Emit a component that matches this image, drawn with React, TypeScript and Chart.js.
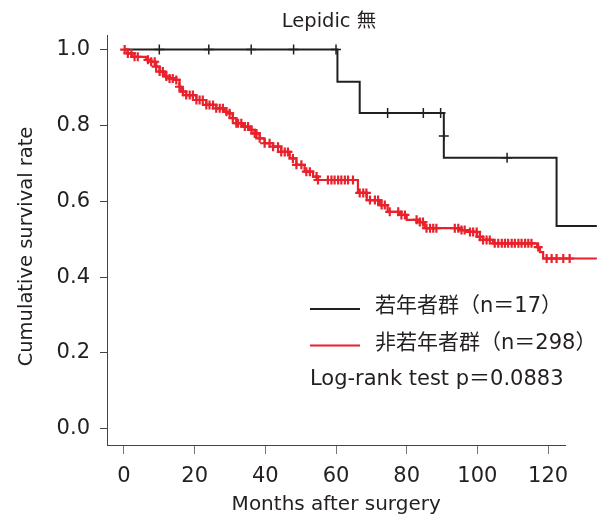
import React, { useEffect, useRef } from "react";
import { Chart, registerables } from "chart.js";

Chart.register(...registerables);

// ---- text ----
const chartTitle = "Lepidic 無";
const xAxisTitle = "Months after surgery";
const yAxisTitle = "Cumulative survival rate";
const pValueText = "Log-rank test p＝0.0883";

// ---- ticks ----
const xTickValues = [0, 20, 40, 60, 80, 100, 120];
const yTickValues = [0, 0.2, 0.4, 0.6, 0.8, 1.0];

// ---- young group (若年者群) ----
const youngLabel = "若年者群（n＝17）";
const youngEventMonths = [0, 60.4, 66.7, 90.5, 122.4, 133.8];
const youngSurvival = [1, 0.915, 0.833, 0.715, 0.535, 0.535];
const youngCensorMonths = [10, 24, 36, 48, 60, 74.6, 84.7, 89.6, 90.5, 108.4, 130.7, 131.3];
const youngCensorSurvival = [1, 1, 1, 1, 1, 0.833, 0.833, 0.833, 0.772, 0.715, 0.535, 0.535];

// ---- non-young group (非若年者群) ----
const olderLabel = "非若年者群（n＝298）";
const olderEventMonths = [
  0, 1.0, 2.4, 6.3, 7.7, 9.1, 10.1, 11.5, 12.9, 14.8,
  15.7, 16.2, 17.6, 20.5, 23.3, 26.1, 28.5, 29.9, 30.8, 31.8,
  33.7, 35.6, 37.0, 38.4, 39.8, 42.2, 44.5, 46.9, 48.8, 51.1,
  53.5, 54.9, 66.2, 68.7, 72.4, 74.6, 78.0, 80.0, 82.9, 85.1,
  95.0, 97.9, 99.9, 101.6, 104.4, 116.9, 117.7, 118.6, 133.8,
];
const olderSurvival = [
  1, 0.99, 0.981, 0.973, 0.968, 0.955, 0.942, 0.929, 0.924, 0.92,
  0.902, 0.889, 0.88, 0.867, 0.854, 0.845, 0.836, 0.832, 0.819, 0.806,
  0.797, 0.788, 0.779, 0.766, 0.753, 0.744, 0.73, 0.713, 0.696, 0.678,
  0.665, 0.656, 0.622, 0.603, 0.59, 0.572, 0.564, 0.551, 0.545, 0.529,
  0.524, 0.519, 0.506, 0.498, 0.489, 0.479, 0.466, 0.449, 0.449,
];
const olderCensorMonths = [
  0.2, 1.1, 2.1, 3.0, 3.9, 6.8, 7.7, 8.7, 9.1, 10.1, 11.0, 12.0, 12.9, 13.8,
  14.8, 15.7, 16.7, 17.6, 18.6, 19.5, 20.5, 21.4, 22.3, 23.3, 24.2, 25.2,
  26.1, 27.1, 28.0, 29.0, 29.9, 30.8, 31.8, 32.3, 33.2, 34.2, 35.1, 36.1,
  37.0, 37.5, 38.4, 39.8, 41.2, 42.2, 43.6, 44.5, 45.5, 46.4, 47.8, 48.8,
  50.2, 51.6, 52.6, 54.5, 54.9, 57.7, 58.7, 59.6, 60.6, 61.5, 62.5, 63.4,
  64.8, 66.7, 67.7, 68.6, 69.6, 71.0, 71.9, 72.9, 73.8, 75.2, 77.6, 78.5,
  79.5, 82.8, 83.7, 84.6, 85.6, 86.6, 87.5, 88.4, 93.6, 94.6, 95.5, 96.4,
  97.9, 98.8, 99.8, 100.7, 101.6, 102.6, 103.5, 104.9, 105.9, 106.9, 107.8,
  108.7, 109.7, 110.6, 111.6, 112.5, 113.5, 114.4, 115.3, 117.2, 119.6,
  121.0, 122.4, 124.3, 126.1, 128.1, 129.5, 132.3,
];

// ---- colours ----
const youngColor = "#231f20";
const olderColor = "#e8212b";
const textColor = "#231f20";
const axisColor = "#444444";

const LATIN = '"DejaVu Sans", "Noto Sans CJK JP", sans-serif';

function survivalAt(times: number[], surv: number[], t: number): number {
  let s = surv[0];
  for (let i = 0; i < times.length; i++) {
    if (times[i] <= t) s = surv[i];
  }
  return s;
}

const overlayPlugin = {
  id: "overlayText",
  afterDraw(chart: any) {
    const { ctx, chartArea } = chart;
    ctx.save();
    ctx.fillStyle = textColor;
    ctx.textBaseline = "middle";

    // chart title
    ctx.font = `19.5px ${LATIN}`;
    ctx.textAlign = "center";
    ctx.fillText(chartTitle, 329, 22);

    // x axis title
    ctx.font = `20px ${LATIN}`;
    ctx.fillText(xAxisTitle, (chartArea.left + chartArea.right) / 2, 504.5);

    // y axis title
    ctx.save();
    ctx.font = `19.5px ${LATIN}`;
    ctx.translate(27, 246.5);
    ctx.rotate(-Math.PI / 2);
    ctx.fillText(yAxisTitle, 0, 0);
    ctx.restore();

    // legend
    const ds = chart.data.datasets;
    const legendItems = [
      { label: ds[2].label, color: ds[2].borderColor, y: 308 },
      { label: ds[0].label, color: ds[0].borderColor, y: 344.5 },
    ];
    ctx.textAlign = "left";
    ctx.font = `21px ${LATIN}`;
    for (const item of legendItems) {
      ctx.strokeStyle = item.color;
      ctx.lineWidth = 2;
      ctx.beginPath();
      ctx.moveTo(310, item.y + 1);
      ctx.lineTo(360, item.y + 1);
      ctx.stroke();
      ctx.fillStyle = textColor;
      ctx.fillText(item.label, 375, item.y - 1);
    }
    ctx.fillText(pValueText, 310, 380);
    ctx.restore();
  },
};

export default function App() {
  const canvasRef = useRef<HTMLCanvasElement>(null);

  useEffect(() => {
    if (!canvasRef.current) return;

    const olderLine = olderEventMonths.map((t, i) => ({ x: t, y: olderSurvival[i] }));
    const olderCensors = olderCensorMonths.map((t) => ({
      x: t,
      y: survivalAt(olderEventMonths, olderSurvival, t),
    }));
    const youngLine = youngEventMonths.map((t, i) => ({ x: t, y: youngSurvival[i] }));
    const youngCensors = youngCensorMonths.map((t, i) => ({ x: t, y: youngCensorSurvival[i] }));

    const chart = new Chart(canvasRef.current, {
      type: "scatter",
      data: {
        datasets: [
          {
            label: olderLabel,
            data: olderLine,
            showLine: true,
            stepped: true,
            borderColor: olderColor,
            backgroundColor: olderColor,
            borderWidth: 2.2,
            pointRadius: 0,
            clip: false,
          } as any,
          {
            label: olderLabel + " censored",
            data: olderCensors,
            showLine: false,
            pointStyle: "cross",
            pointRadius: 4.5,
            borderColor: olderColor,
            backgroundColor: olderColor,
            pointBorderWidth: 2.2,
            clip: false,
          } as any,
          {
            label: youngLabel,
            data: youngLine,
            showLine: true,
            stepped: true,
            borderColor: youngColor,
            backgroundColor: youngColor,
            borderWidth: 2,
            pointRadius: 0,
            clip: false,
          } as any,
          {
            label: youngLabel + " censored",
            data: youngCensors,
            showLine: false,
            pointStyle: "cross",
            pointRadius: 5,
            borderColor: youngColor,
            backgroundColor: youngColor,
            pointBorderWidth: 1.5,
            clip: false,
          } as any,
        ],
      },
      options: {
        responsive: false,
        animation: false,
        events: [],
        layout: { padding: { top: 35, right: 42.6, left: 0, bottom: 0 } },
        plugins: {
          legend: { display: false },
          tooltip: { enabled: false },
          title: { display: false },
        },
        scales: {
          x: {
            type: "linear",
            position: "bottom",
            min: -4.8,
            max: 124.9,
            afterBuildTicks: (scale: any) => {
              scale.ticks = xTickValues.map((v) => ({ value: v }));
            },
            afterFit: (scale: any) => {
              scale.height = 72;
            },
            ticks: {
              color: textColor,
              font: { family: LATIN, size: 21 },
              padding: 10,
              maxRotation: 0,
              autoSkip: false,
              callback: (v: any) => String(v),
            },
            grid: {
              drawOnChartArea: false,
              drawTicks: true,
              tickLength: 9,
              color: "#777777",
              lineWidth: 1,
            },
            border: { display: true, color: axisColor, width: 1 },
          },
          y: {
            type: "linear",
            position: "left",
            min: -0.043,
            max: 1.0385,
            afterBuildTicks: (scale: any) => {
              scale.ticks = yTickValues.map((v) => ({ value: v }));
            },
            afterFit: (scale: any) => {
              scale.width = 107;
            },
            ticks: {
              color: textColor,
              font: { family: LATIN, size: 21 },
              padding: 10,
              autoSkip: false,
              callback: (v: any) => Number(v).toFixed(1),
            },
            grid: {
              drawOnChartArea: false,
              drawTicks: true,
              tickLength: 7,
              color: axisColor,
              lineWidth: 1,
            },
            border: { display: true, color: axisColor, width: 1 },
          },
        },
      },
      plugins: [overlayPlugin],
    } as any);

    return () => chart.destroy();
  }, []);

  return (
    <div style={{ position: "fixed", left: 0, top: 0, width: 608, height: 517 }}>
      <canvas ref={canvasRef} width={608} height={517} style={{ display: "block" }} />
    </div>
  );
}
